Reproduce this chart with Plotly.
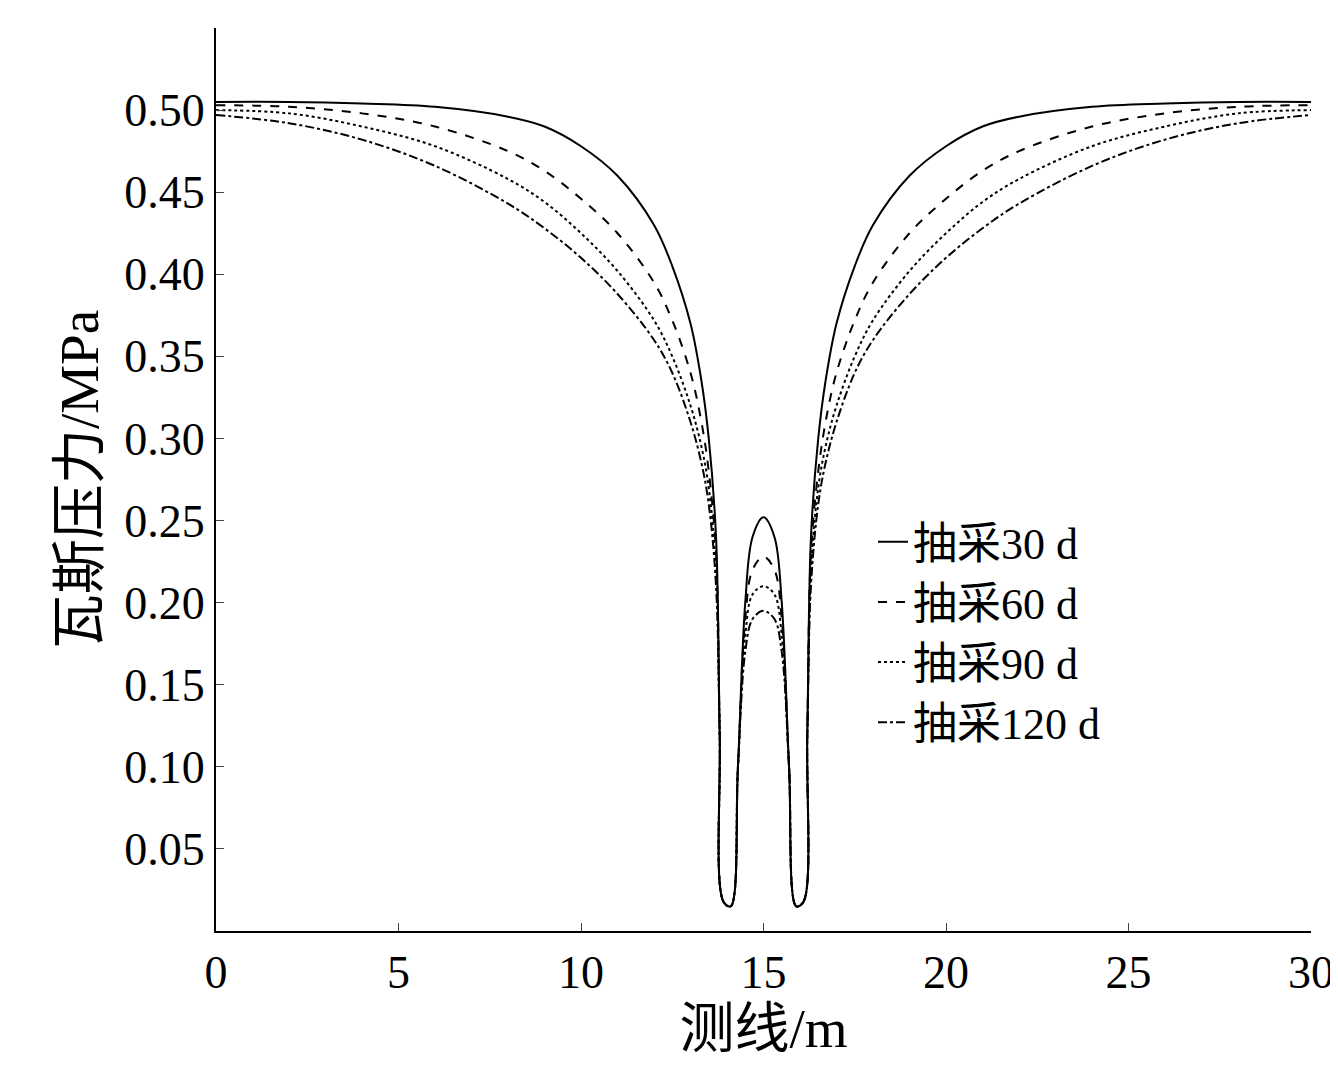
import plotly.graph_objects as go

x = [0,2,4,6,8,9,10,11,12,12.5,13,13.3,13.5,13.7,13.8,13.9,14.1,14.3,14.5,14.7,15,
     15.3,15.5,15.7,15.9,16.1,16.2,16.3,16.5,16.7,17,17.5,18,19,20,21,22,24,26,28,30]
d30 = [0.505,0.505,0.504,0.502,0.496,0.49,0.478,0.46,0.43,0.405,0.37,0.335,0.30,0.24,0.12,0.018,0.015,0.10,0.20,0.24,0.252,
       0.24,0.20,0.10,0.015,0.018,0.12,0.24,0.30,0.335,0.37,0.405,0.43,0.46,0.478,0.49,0.496,0.502,0.504,0.505,0.505]
d60 = [0.503,0.502,0.498,0.49,0.475,0.463,0.446,0.425,0.395,0.372,0.34,0.31,0.28,0.23,0.12,0.018,0.015,0.10,0.19,0.22,0.228,
       0.22,0.19,0.10,0.015,0.018,0.12,0.23,0.28,0.31,0.34,0.372,0.395,0.425,0.446,0.463,0.475,0.49,0.498,0.502,0.503]
d90 = [0.50,0.498,0.49,0.478,0.458,0.444,0.425,0.402,0.372,0.35,0.32,0.295,0.27,0.22,0.12,0.018,0.015,0.10,0.18,0.205,0.21,
       0.205,0.18,0.10,0.015,0.018,0.12,0.22,0.27,0.295,0.32,0.35,0.372,0.402,0.425,0.444,0.458,0.478,0.49,0.498,0.50]
d120 = [0.497,0.492,0.482,0.466,0.443,0.428,0.41,0.388,0.36,0.34,0.31,0.285,0.26,0.21,0.12,0.018,0.015,0.10,0.17,0.19,0.195,
        0.19,0.17,0.10,0.015,0.018,0.12,0.21,0.26,0.285,0.31,0.34,0.36,0.388,0.41,0.428,0.443,0.466,0.482,0.492,0.497]
series = [("抽采30 d", d30, "solid"), ("抽采60 d", d60, "dash"),
          ("抽采90 d", d90, "dot"), ("抽采120 d", d120, "dashdot")]

fig = go.Figure()
for name, y, dash in series:
    fig.add_trace(go.Scatter(x=x, y=y, name=name, mode="lines", line_shape="spline",
                             line=dict(color="black", width=2, dash=dash)))
font = dict(family="Liberation Serif, Noto Sans CJK SC", size=46, color="black")
fig.update_layout(
    width=1338, height=1073, plot_bgcolor="white", paper_bgcolor="white",
    margin=dict(l=208, r=28, t=20, b=150), font=font,
    legend=dict(x=0.6, y=0.47, xanchor="left", yanchor="top", bgcolor="rgba(0,0,0,0)",
                font=dict(size=44), tracegroupgap=0),
    xaxis=dict(range=[0, 30], tickvals=[0,5,10,15,20,25,30], ticks="inside", ticklen=8,
               showline=True, linecolor="black", linewidth=2, showgrid=False, zeroline=False,
               title=dict(text="测线/m", standoff=8)),
    yaxis=dict(range=[0, 0.55], tickvals=[0.05,0.1,0.15,0.2,0.25,0.3,0.35,0.4,0.45,0.5,0.55],
               tickformat=".2f", ticks="inside", ticklen=8,
               showline=True, linecolor="black", linewidth=2, showgrid=False, zeroline=False,
               title=dict(text="瓦斯压力/MPa", standoff=8)),
)
fig.write_html("out.html")
